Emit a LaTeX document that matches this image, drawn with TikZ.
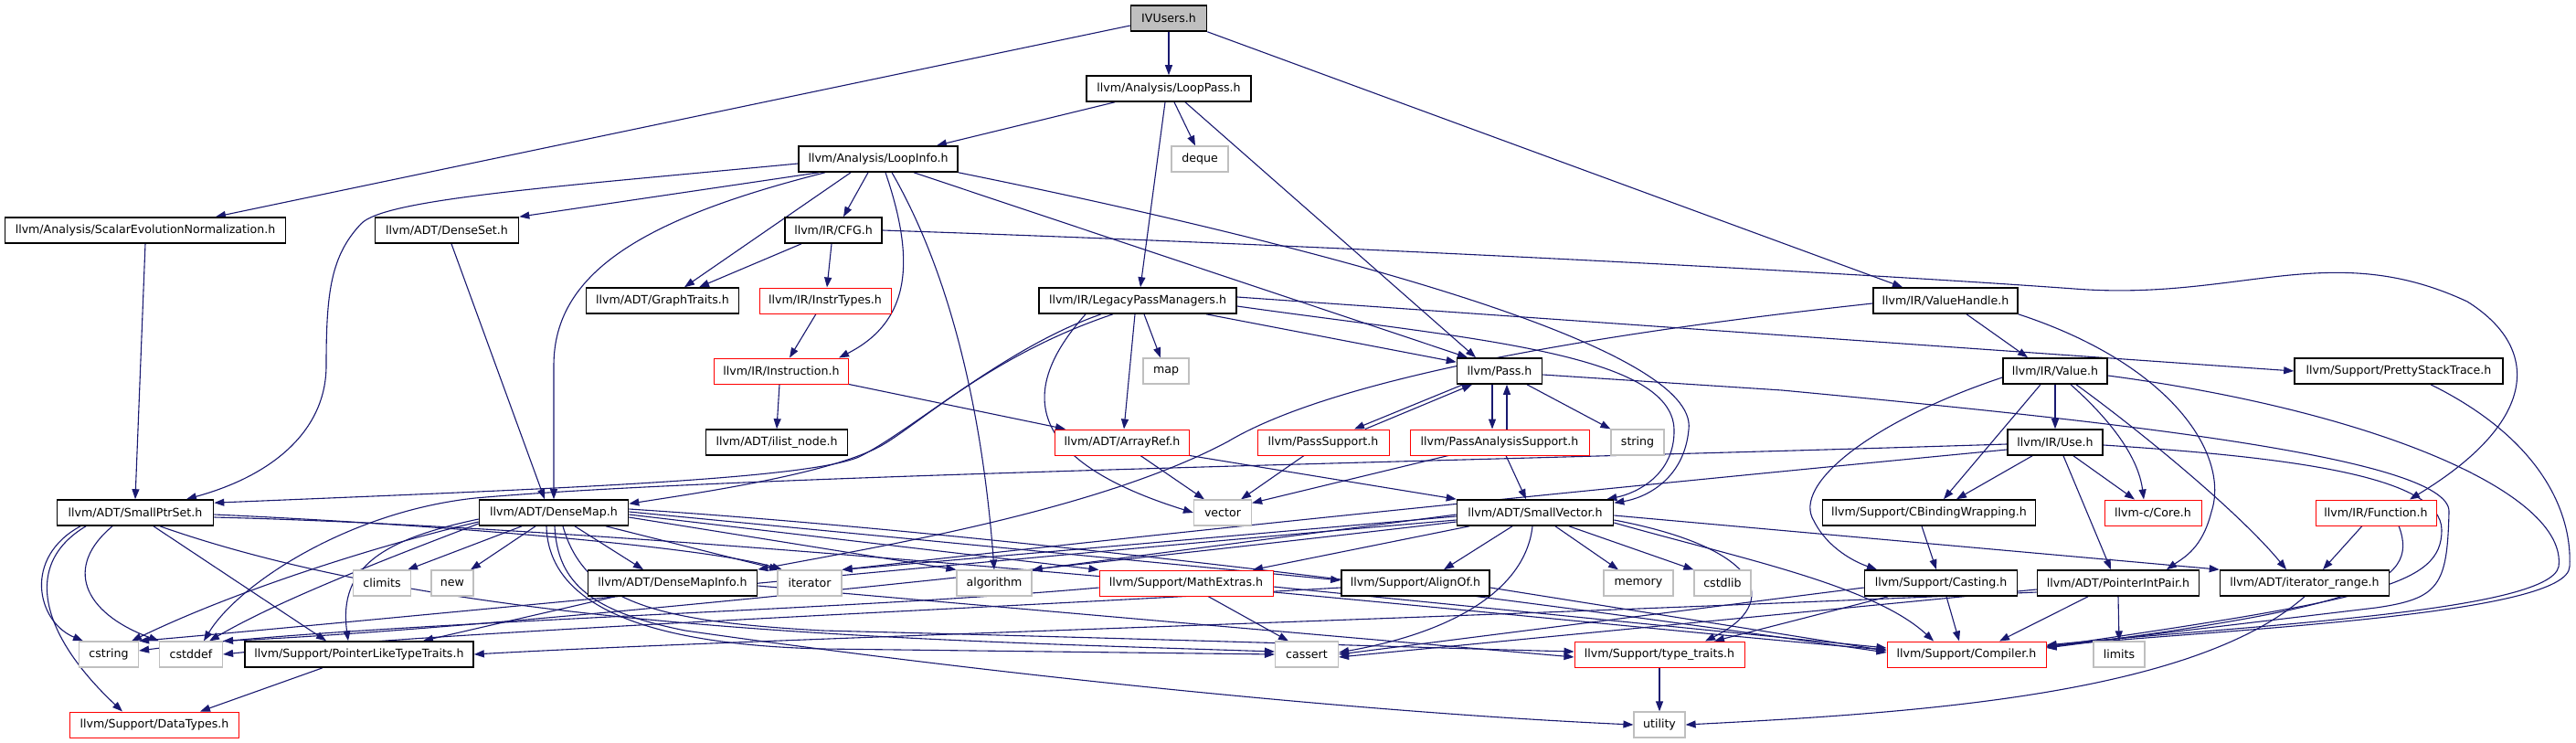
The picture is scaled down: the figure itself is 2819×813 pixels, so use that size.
\documentclass[tikz,border=0pt]{standalone}
\usepackage{fontspec}
\newfontfamily\doxyfont{DejaVu Sans}
\usetikzlibrary{arrows.meta}
\definecolor{edgeblue}{HTML}{191970}
\definecolor{sysgray}{HTML}{BFBFBF}
\definecolor{rootgray}{HTML}{BFBFBF}
\definecolor{truncred}{HTML}{FF0000}
\pgfdeclarelayer{edgelayer}
\pgfsetlayers{edgelayer,main}
\begin{document}
\begin{tikzpicture}[x=1pt, y=-1pt,
  hdr/.style={rectangle, draw=black, line width=1.6pt, fill=white, minimum height=28pt, inner sep=2pt, font=\doxyfont\fontsize{12.6}{15}\selectfont},
  hdrred/.style={hdr, draw=truncred, line width=1pt},
  hdrsys/.style={hdr, draw=sysgray, line width=1.2pt},
  hdrroot/.style={hdr, fill=rootgray},
  inc/.style={draw=edgeblue, line width=1.1pt, -{Triangle[length=11pt,width=8pt]}}]
% include graph of IVUsers.h, positions in pixels from top left
% Row 0-2
\node[hdrroot, minimum width=83pt] (ivusers) at (1279,20) {IVUsers.h};
\node[hdr, minimum width=180pt] (looppass) at (1279,97) {llvm/Analysis/LoopPass.h};
\node[hdr, minimum width=174pt] (loopinfo) at (961,174) {llvm/Analysis/LoopInfo.h};
\node[hdrsys, minimum width=62pt] (deque) at (1313,174) {deque};
% Row 3-4
\node[hdr, minimum width=307pt] (sen) at (159,252) {llvm/Analysis/ScalarEvolutionNormalization.h};
\node[hdr, minimum width=157pt] (denseset) at (489,252) {llvm/ADT/DenseSet.h};
\node[hdr, minimum width=106pt] (cfg) at (912,252) {llvm/IR/CFG.h};
\node[hdr, minimum width=167pt] (gtraits) at (725,329) {llvm/ADT/GraphTraits.h};
\node[hdrred, minimum width=144pt] (instrtypes) at (903,329) {llvm/IR/InstrTypes.h};
\node[hdr, minimum width=216pt] (lpm) at (1245,329) {llvm/IR/LegacyPassManagers.h};
\node[hdr, minimum width=158pt] (vhandle) at (2129,329) {llvm/IR/ValueHandle.h};
% Row 5-6
\node[hdrred, minimum width=147pt] (instr) at (855,406) {llvm/IR/Instruction.h};
\node[hdrsys, minimum width=50pt] (map) at (1276,406) {map};
\node[hdr, minimum width=93pt] (pass) at (1641,406) {llvm/Pass.h};
\node[hdr, minimum width=114pt] (value) at (2249,406) {llvm/IR/Value.h};
\node[hdr, minimum width=228pt] (pst) at (2625,406) {llvm/Support/PrettyStackTrace.h};
\node[hdr, minimum width=155pt] (ilist) at (850,484) {llvm/ADT/ilist\_node.h};
\node[hdrred, minimum width=147pt] (arrayref) at (1228,484) {llvm/ADT/ArrayRef.h};
\node[hdrred, minimum width=144pt] (passsup) at (1448,484) {llvm/PassSupport.h};
\node[hdrred, minimum width=196pt] (pas) at (1641,484) {llvm/PassAnalysisSupport.h};
\node[hdrsys, minimum width=58pt] (string) at (1792,484) {string};
\node[hdr, minimum width=104pt] (use) at (2249,484) {llvm/IR/Use.h};
% Row 7
\node[hdr, minimum width=171pt] (sptrset) at (148,561) {llvm/ADT/SmallPtrSet.h};
\node[hdr, minimum width=163pt] (densemap) at (606,561) {llvm/ADT/DenseMap.h};
\node[hdrsys, minimum width=63pt] (vector) at (1338,561) {vector};
\node[hdr, minimum width=171pt] (svector) at (1680,561) {llvm/ADT/SmallVector.h};
\node[hdr, minimum width=233pt] (cbind) at (2111,561) {llvm/Support/CBindingWrapping.h};
\node[hdrred, minimum width=106pt] (core) at (2356,561) {llvm-c/Core.h};
\node[hdrred, minimum width=132pt] (function) at (2600,561) {llvm/IR/Function.h};
% Row 8
\node[hdrsys, minimum width=63pt] (climits) at (418,638) {climits};
\node[hdrsys, minimum width=46pt] (new) at (495,638) {new};
\node[hdr, minimum width=185pt] (dmapinfo) at (736,638) {llvm/ADT/DenseMapInfo.h};
\node[hdrsys, minimum width=70pt] (iterator) at (886,638) {iterator};
\node[hdrsys, minimum width=82pt] (algorithm) at (1088,638) {algorithm};
\node[hdrred, minimum width=190pt] (mathext) at (1298,638) {llvm/Support/MathExtras.h};
\node[hdr, minimum width=162pt] (alignof) at (1549,638) {llvm/Support/AlignOf.h};
\node[hdrsys, minimum width=76pt] (memory) at (1793,638) {memory};
\node[hdrsys, minimum width=62pt] (cstdlib) at (1885,638) {cstdlib};
\node[hdr, minimum width=167pt] (casting) at (2124,638) {llvm/Support/Casting.h};
\node[hdr, minimum width=177pt] (pip) at (2318,638) {llvm/ADT/PointerIntPair.h};
\node[hdr, minimum width=185pt] (itrange) at (2522,638) {llvm/ADT/iterator\_range.h};
% Row 9-10
\node[hdrsys, minimum width=65pt] (cstring) at (119,716) {cstring};
\node[hdrsys, minimum width=69pt] (cstddef) at (209,716) {cstddef};
\node[hdr, minimum width=250pt] (pltt) at (393,716) {llvm/Support/PointerLikeTypeTraits.h};
\node[hdrsys, minimum width=69pt] (cassert) at (1430,716) {cassert};
\node[hdrred, minimum width=186pt] (ttraits) at (1816,716) {llvm/Support/type\_traits.h};
\node[hdrred, minimum width=174pt] (compiler) at (2152,716) {llvm/Support/Compiler.h};
\node[hdrsys, minimum width=56pt] (limits) at (2319,716) {limits};
\node[hdrred, minimum width=185pt] (datatypes) at (169,793) {llvm/Support/DataTypes.h};
\node[hdrsys, minimum width=56pt] (utility) at (1816,793) {utility};
\begin{pgfonlayer}{edgelayer}
\useasboundingbox[fill=white] (0,0) rectangle (2819,813);
% Edges from the upper part
\draw[inc] (ivusers) -- (looppass);
\draw[inc] ([yshift=-8pt]ivusers.west) -- ([xshift=77pt]sen.north);
\draw[inc] (ivusers.south east) -- ([xshift=-47pt]vhandle.north);
\draw[inc] ([xshift=-59pt]looppass.south) -- ([xshift=64pt]loopinfo.north);
\draw[inc] ([xshift=6pt]looppass.south) -- ([xshift=-5pt]deque.north);
\draw[inc] ([xshift=-4pt]looppass.south) -- ([xshift=3pt]lpm.north);
\draw[inc] ([xshift=18pt]looppass.south) -- ([xshift=-26pt]pass.north);
\draw[inc] ([yshift=-5pt]loopinfo.west) .. controls (600,205) and (420,218) .. (395,245) .. controls (362,280) and (357,320) .. (357,400) .. controls (357,470) and (300,520) .. ([xshift=56pt]sptrset.north);
\draw[inc] ([xshift=-65pt]loopinfo.south) -- (denseset.north east);
\draw[inc] ([xshift=-58pt]loopinfo.south) .. controls (700,240) and (606,300) .. (606,400) -- (densemap.north);
\draw[inc] ([xshift=-30pt]loopinfo.south) -- ([xshift=24pt]gtraits.north);
\draw[inc] ([xshift=-11pt]loopinfo.south) -- ([xshift=11pt]cfg.north);
\draw[inc] ([xshift=8pt]loopinfo.south) .. controls (1000,280) and (1000,350) .. ([xshift=63pt]instr.north);
\draw[inc] ([xshift=15pt]loopinfo.south) .. controls (1040,300) and (1075,450) .. (algorithm.north);
\draw[inc] ([xshift=39pt]loopinfo.south) -- ([xshift=-35pt]pass.north);
\draw[inc] (loopinfo.south east) .. controls (1450,270) and (1860,380) .. (1848,470) .. controls (1843,525) and (1800,545) .. ([yshift=-4pt]svector.north east);
\draw[inc] ([xshift=-35pt]cfg.south) -- ([xshift=40pt]gtraits.north);
\draw[inc] ([xshift=-2pt]cfg.south) -- ([xshift=2pt]instrtypes.north);
\draw[inc] (cfg.east) .. controls (1500,270) and (2050,300) .. (2270,316) .. controls (2450,330) and (2550,260) .. (2700,330) .. controls (2780,380) and (2780,460) .. ([xshift=37pt]function.north);
\draw[inc] ([xshift=-10pt]instrtypes.south) -- ([xshift=9pt]instr.north);
\draw[inc] ([xshift=-2pt]instr.south) -- (ilist.north);
\draw[inc] (instr.south east) -- ([xshift=-62pt]arrayref.north);
\draw[inc] ([xshift=5pt]denseset.south) -- ([xshift=-10pt]densemap.north);
\draw[inc] (sen.south) -- (sptrset.north);
% LegacyPassManagers and Pass
\draw[inc] ([xshift=7pt]lpm.south) -- ([xshift=-6pt]map.north);
\draw[inc] ([xshift=-3pt]lpm.south) -- ([xshift=2pt]arrayref.north);
\draw[inc] ([xshift=75pt]lpm.south) -- ([yshift=-5pt]pass.north west);
\draw[inc] ([yshift=-6pt]lpm.east) .. controls (1600,370) and (1830,385) .. (1832,470) .. controls (1833,520) and (1790,540) .. ([xshift=-8pt]svector.north east);
\draw[inc] ([yshift=4pt]lpm.east) -- (pst.west);
\draw[inc] ([xshift=-40pt]lpm.south) .. controls (1100,380) and (1000,470) .. (940,500) .. controls (880,525) and (600,535) .. ([yshift=-4pt]sptrset.north east);
\draw[inc] ([xshift=-27pt]lpm.south) .. controls (1080,390) and (1000,470) .. (960,490) .. controls (900,520) and (760,540) .. ([yshift=-5pt]densemap.north east);
\draw[inc] ([xshift=-57pt]lpm.south) .. controls (1120,420) and (1110,500) .. (vector.west);
\draw[inc] ([xshift=-40pt]pass.south) -- ([xshift=34pt]passsup.north);
\draw[inc] ([xshift=46pt]passsup.north) -- ([xshift=-30pt]pass.south);
\draw[inc] ([xshift=-8pt]pass.south) -- ([xshift=-8pt]pas.north);
\draw[inc] ([xshift=8pt]pas.north) -- ([xshift=8pt]pass.south);
\draw[inc] ([xshift=30pt]pass.south) -- (string.north west);
\draw[inc] ([yshift=-4pt]pass.east) -- (1950,427) .. controls (2300,460) and (2682,500) .. (2680,560) .. controls (2678,640) and (2670,655) .. (2600,665) -- ([yshift=8pt]compiler.east);
\draw[inc] ([xshift=-21pt]passsup.south) -- ([xshift=20pt]vector.north);
\draw[inc] ([xshift=-56pt]pas.south) -- ([yshift=-4pt]vector.north east);
\draw[inc] ([xshift=7pt]pas.south) -- ([xshift=-10pt]svector.north);
\draw[inc] ([xshift=20pt]arrayref.south) -- ([xshift=-20pt]vector.north);
\draw[inc] (arrayref.south east) -- (svector.north west);
% ValueHandle, Value and Use
\draw[inc] ([xshift=23pt]vhandle.south) -- ([xshift=-30pt]value.north);
\draw[inc] (vhandle.south east) .. controls (2380,400) and (2440,500) .. (2420,560) .. controls (2410,600) and (2390,610) .. ([xshift=53pt]pip.north);
\draw[inc] ([yshift=-3pt]vhandle.west) .. controls (1700,370) and (1450,420) .. (1344,483) .. controls (1200,560) and (950,600) .. (dmapinfo.north east);
\draw[inc] (value.south) -- (use.north);
\draw[inc] ([xshift=-16pt]value.south) -- ([xshift=16pt]cbind.north);
\draw[inc] ([xshift=17pt]value.south) .. controls (2310,460) and (2340,500) .. ([xshift=-10pt]core.north);
\draw[inc] ([xshift=23pt]value.south) .. controls (2340,470) and (2450,560) .. ([xshift=-20pt]itrange.north);
\draw[inc] ([yshift=-7pt]value.west) .. controls (2050,460) and (1960,530) .. (1985,570) .. controls (2000,600) and (2030,615) .. ([xshift=-70pt]casting.north);
\draw[inc] ([yshift=-5pt]value.east) .. controls (2600,450) and (2810,540) .. (2800,620) .. controls (2790,670) and (2450,685) .. ([yshift=10pt]compiler.east);
\draw[inc] ([xshift=35pt]pst.south) .. controls (2780,480) and (2815,560) .. (2812,620) .. controls (2810,672) and (2450,688) .. ([yshift=9pt]compiler.east);
\draw[inc] ([xshift=-25pt]use.south) -- ([xshift=30pt]cbind.north);
\draw[inc] ([xshift=20pt]use.south) -- ([xshift=-20pt]core.north);
\draw[inc] ([xshift=9pt]use.south) -- ([xshift=-8pt]pip.north);
\draw[inc] ([yshift=-3pt]use.east) .. controls (2500,500) and (2672,520) .. (2672,580) .. controls (2672,640) and (2600,655) .. ([yshift=8pt]compiler.east);
\draw[inc] ([yshift=-2pt]use.west) .. controls (1600,505) and (800,520) .. (520,545) .. controls (380,560) and (260,640) .. ([xshift=14pt]cstddef.north);
\draw[inc] ([yshift=-8pt]use.west) .. controls (1800,530) and (1300,580) .. (iterator.north east);
\draw[inc] ([xshift=-8pt]cbind.south) -- ([xshift=-5pt]casting.north);
\draw[inc] ([xshift=-15pt]function.south) -- ([xshift=20pt]itrange.north);
\draw[inc] ([xshift=25pt]function.south) .. controls (2650,640) and (2580,665) .. ([yshift=7pt]compiler.east);
% SmallPtrSet
\draw[inc] ([xshift=-54pt]sptrset.south) .. controls (20,620) and (50,700) .. ([xshift=-35pt]datatypes.north);
\draw[inc] ([xshift=-60pt]sptrset.south) .. controls (25,610) and (40,680) .. ([xshift=-28pt]cstring.north);
\draw[inc] ([xshift=-25pt]sptrset.south) .. controls (70,620) and (90,670) .. (cstddef.north west);
\draw[inc] ([xshift=20pt]sptrset.south) -- ([xshift=-36pt]pltt.north);
\draw[inc] ([xshift=27pt]sptrset.south) .. controls (500,690) and (1000,700) .. ([yshift=3pt]cassert.west);
\draw[inc] ([yshift=-2pt]sptrset.east) .. controls (500,575) and (780,600) .. ([xshift=-30pt]iterator.north);
\draw[inc] ([yshift=-5pt]sptrset.east) .. controls (800,580) and (1800,690) .. ([yshift=5pt]compiler.west);
% DenseMap
\draw[inc] ([xshift=-35pt]densemap.south) -- ([xshift=28pt]climits.north);
\draw[inc] ([xshift=-20pt]densemap.south) -- ([xshift=20pt]new.north);
\draw[inc] ([xshift=23pt]densemap.south) -- ([xshift=-32pt]dmapinfo.north);
\draw[inc] ([xshift=57pt]densemap.south) -- ([xshift=-33pt]iterator.north);
\draw[inc] ([yshift=-5pt]densemap.east) -- (algorithm.north west);
\draw[inc] ([yshift=-2pt]densemap.east) -- (mathext.north west);
\draw[inc] ([yshift=1pt]densemap.east) -- ([yshift=3pt]alignof.west);
\draw[inc] ([yshift=4pt]densemap.east) .. controls (1200,590) and (1900,690) .. ([yshift=2pt]compiler.west);
\draw[inc] ([xshift=-8pt]densemap.south) .. controls (600,660) and (700,705) .. (900,710) -- (cassert.west);
\draw[inc] ([xshift=1pt]densemap.south) .. controls (610,640) and (650,670) .. (750,690) .. controls (1100,740) and (1500,780) .. (utility.west);
\draw[inc] ([xshift=10pt]densemap.south) .. controls (640,660) and (720,680) .. (900,690) .. controls (1300,700) and (1600,710) .. ([yshift=3pt]ttraits.west);
\draw[inc] ([yshift=-10pt]densemap.west) .. controls (400,600) and (250,650) .. ([xshift=25pt]cstring.north);
\draw[inc] ([yshift=-12pt]densemap.west) .. controls (400,620) and (300,660) .. ([xshift=20pt]cstddef.north);
\draw[inc] ([yshift=-7pt]densemap.west) .. controls (420,590) and (370,620) .. ([xshift=-12pt]pltt.north);
\draw[inc] ([xshift=-63pt]dmapinfo.south) -- ([xshift=70pt]pltt.north);
\draw[inc] ([yshift=-3pt]dmapinfo.east) -- ([yshift=-3pt]ttraits.west);
% SmallVector
\draw[inc] ([xshift=-72pt]svector.south) -- ([xshift=73pt]mathext.north);
\draw[inc] ([xshift=-25pt]svector.south) -- ([xshift=31pt]alignof.north);
\draw[inc] ([xshift=-3pt]svector.south) .. controls (1670,640) and (1600,690) .. ([yshift=2pt]cassert.east);
\draw[inc] ([xshift=22pt]svector.south) -- ([xshift=-22pt]memory.north);
\draw[inc] ([xshift=37pt]svector.south) -- (cstdlib.north west);
\draw[inc] ([yshift=-8pt]svector.east) .. controls (1930,600) and (1950,660) .. ([xshift=50pt]ttraits.north);
\draw[inc] ([yshift=-11pt]svector.east) .. controls (1900,610) and (2050,640) .. ([xshift=-36pt]compiler.north);
\draw[inc] ([yshift=-3pt]svector.east) -- (itrange.north west);
\draw[inc] ([yshift=-4pt]svector.west) -- (iterator.north east);
\draw[inc] ([yshift=-2pt]svector.west) -- (algorithm.north east);
\draw[inc] ([yshift=-8pt]svector.west) .. controls (1000,620) and (400,680) .. (cstring.north east);
\draw[inc] ([yshift=-10pt]svector.west) .. controls (1000,640) and (500,690) .. (cstddef.north east);
% lower rows
\draw[inc] ([xshift=24pt]mathext.south) -- ([xshift=-20pt]cassert.north);
\draw[inc] ([yshift=-4pt]mathext.east) -- ([yshift=7pt]compiler.west);
\draw[inc] ([yshift=-5pt]mathext.west) .. controls (900,670) and (400,680) .. ([yshift=4pt]cstring.east);
\draw[inc] ([yshift=-5pt]alignof.east) -- ([yshift=4pt]compiler.west);
\draw[inc] ([yshift=-5pt]alignof.west) .. controls (1000,670) and (500,690) .. (cstddef.east);
\draw[inc] ([xshift=6pt]casting.south) -- ([xshift=-8pt]compiler.north);
\draw[inc] ([yshift=-5pt]casting.west) -- (cassert.east);
\draw[inc] ([xshift=-58pt]casting.south) -- ([xshift=60pt]ttraits.north);
\draw[inc] ([xshift=-33pt]pip.south) -- ([xshift=36pt]compiler.north);
\draw[inc] (pip.south) -- (limits.north);
\draw[inc] ([yshift=-7pt]pip.west) -- ([yshift=-3pt]cassert.east);
\draw[inc] ([yshift=-10pt]pip.west) .. controls (1500,680) and (800,700) .. (pltt.east);
\draw[inc] (itrange.south) .. controls (2400,760) and (2100,780) .. (utility.east);
\draw[inc] (ttraits.south) -- (utility.north);
\draw[inc] ([xshift=-40pt]pltt.south) -- ([xshift=50pt]datatypes.north);
\end{pgfonlayer}
\end{tikzpicture}
\end{document}
